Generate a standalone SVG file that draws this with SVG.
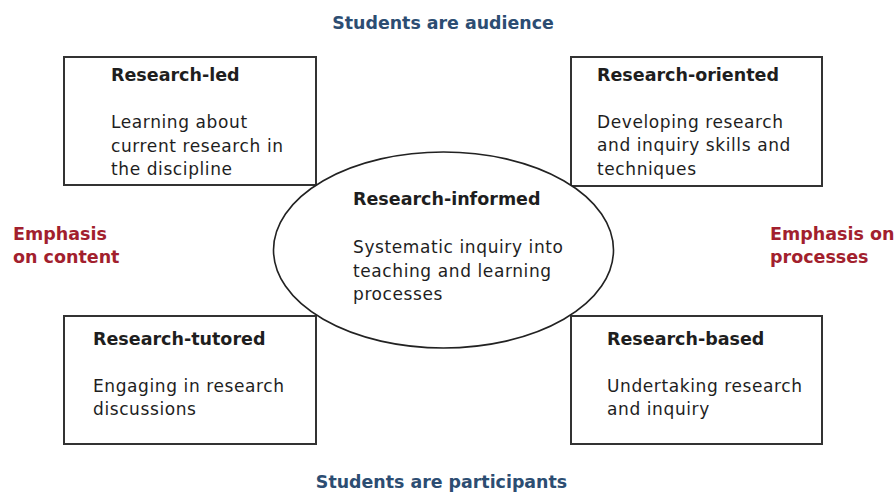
<svg xmlns="http://www.w3.org/2000/svg" width="895" height="493" viewBox="0 0 895 493">
<style>
text{font-family:"DejaVu Sans","Liberation Sans",sans-serif;fill:#1e1e1e}
.t{font-weight:bold;font-size:17.5px}
.b{font-size:17px;letter-spacing:0.6px}
.box{fill:#fff;stroke:#333;stroke-width:2}
.ell{fill:#fff;stroke:#222;stroke-width:1.6}
.blue{fill:#2c4d72;font-weight:bold;font-size:17.4px}
.red{fill:#a21f2e;font-weight:bold;font-size:17.5px}
</style>
<rect width="895" height="493" fill="#fff"/>
<g id="label-top"><text class="blue" x="443" y="29" text-anchor="middle">Students are audience</text></g>
<g id="label-bottom"><text class="blue" x="441.5" y="488" text-anchor="middle">Students are participants</text></g>
<g id="label-left"><text class="red" x="13" y="240">Emphasis</text><text class="red" x="13" y="263">on content</text></g>
<g id="label-right"><text class="red" x="770" y="240">Emphasis on</text><text class="red" x="770" y="263">processes</text></g>
<g id="research-led">
<rect class="box" x="64" y="57" width="252" height="128"/>
<text class="t" x="111" y="81">Research-led</text>
<text class="b" x="111" y="128">Learning about</text>
<text class="b" x="111" y="152">current research in</text>
<text class="b" x="111" y="175">the discipline</text>
</g>
<g id="research-oriented">
<rect class="box" x="571" y="57" width="251" height="129"/>
<text class="t" x="597" y="81">Research-oriented</text>
<text class="b" x="597" y="128">Developing research</text>
<text class="b" x="597" y="151">and inquiry skills and</text>
<text class="b" x="597" y="175">techniques</text>
</g>
<g id="research-tutored">
<rect class="box" x="64" y="316" width="252" height="128"/>
<text class="t" x="93" y="345">Research-tutored</text>
<text class="b" x="93" y="392">Engaging in research</text>
<text class="b" x="93" y="415">discussions</text>
</g>
<g id="research-based">
<rect class="box" x="571" y="316" width="251" height="128"/>
<text class="t" x="607" y="345">Research-based</text>
<text class="b" x="607" y="392">Undertaking research</text>
<text class="b" x="607" y="415">and inquiry</text>
</g>
<g id="research-informed">
<ellipse class="ell" cx="443.5" cy="250" rx="170" ry="98"/>
<text class="t" x="353" y="205">Research-informed</text>
<text class="b" x="353" y="253">Systematic inquiry into</text>
<text class="b" x="353" y="277">teaching and learning</text>
<text class="b" x="353" y="300">processes</text>
</g>
<g id="connectors"></g>
</svg>
